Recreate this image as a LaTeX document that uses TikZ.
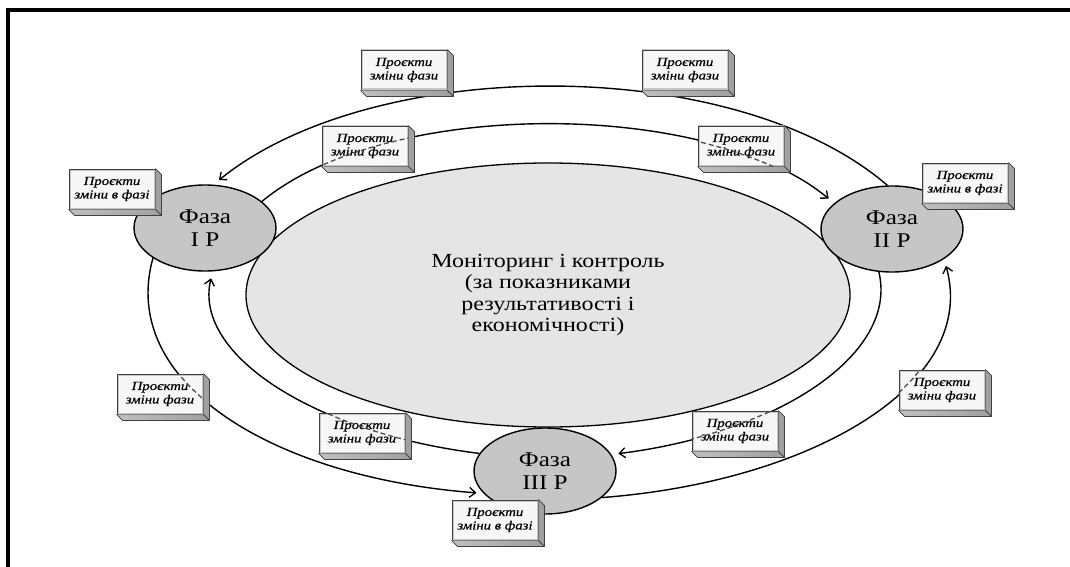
\documentclass[tikz,border=0pt]{standalone}
\usepackage{fontspec}
\setmainfont{Liberation Serif}
\newfontfamily\wideserif[FakeStretch=1.2]{Liberation Serif}
\newfontfamily\boxserif[FakeStretch=1.2,FakeBold=0.6]{Liberation Serif}
\usetikzlibrary{shapes.geometric,arrows.meta}

\tikzset{
  frameline/.style={line width=4pt},
  mainell/.style={ellipse, draw, line width=1.3pt, fill=gray!20, inner sep=0pt,
    minimum width=604pt, minimum height=264pt, align=center,
    font=\wideserif\fontsize{20}{21.5}\selectfont},
  phase/.style={ellipse, draw, line width=1.4pt, fill=gray!45, inner sep=0pt,
    minimum width=142pt, minimum height=86pt, align=center,
    font=\wideserif\fontsize{21}{23}\selectfont},
  pbox/.style={rectangle, draw=black!75, line width=0.9pt, fill=gray!6,
    minimum width=86pt, minimum height=40pt, inner sep=1pt, align=center,
    font=\boxserif\itshape\fontsize{12.3}{13.5}\selectfont,
    path picture={\draw[gray!45, line width=3pt]
      (path picture bounding box.south west) rectangle (path picture bounding box.north east);}},
  boxside/.style={left color=gray!50, right color=gray!75},
  boxedge/.style={draw=black!75, line width=0.8pt, line join=round},
  flow/.style={line width=1.4pt, -{Straight Barb[length=6pt,width=10pt,line width=1.3pt]}, shorten >=7pt},
  dashover/.style={line width=1.3pt, black!70, dash pattern=on 5pt off 3pt},
}

\newcommand\projbox[4]{%
  \node[pbox] (#1) at (#2,#3) {#4};
  \fill[boxside] (#1.north east) -- ++(6,-6) -- ([shift={(6,-6)}]#1.south east)
     -- ([shift={(6,-6)}]#1.south west) -- (#1.south west) -- (#1.south east) -- cycle;
  \draw[boxedge] (#1.north east) -- ++(6,-6) -- ([shift={(6,-6)}]#1.south east)
     -- ([shift={(6,-6)}]#1.south west) -- (#1.south west);
  \draw[boxedge] (#1.south east) -- ++(6,-6);
}

\newcommand\arcA{(p2.96) .. controls +(-153,132) and +(160,130) .. (p1.79)}
\newcommand\arcB{(p1.25) .. controls +(125,104) and +(-125,104) .. (p2.156)}
\newcommand\arcC{(p3.165) .. controls +(-163,20) and +(-20,-84) .. (p1.-80)}
\newcommand\arcD{(p1.210) .. controls +(-35,-125) and +(-210,16) .. (p3.200)}
\newcommand\arcE{(p2.253) .. controls +(20,-84) and +(163,20) .. (p3.14)}
\newcommand\arcF{(p3.-25) .. controls +(210,16) and +(35,-125) .. (p2.-30)}

\begin{document}
\begin{tikzpicture}[x=1pt, y=1pt]
\useasboundingbox (0,0) rectangle (1070,-567);
\fill[white] (0,0) rectangle (1070,-567);
\draw[frameline] (8,-567) -- (8,-10) -- (1070,-10);

\node[mainell] (mc) at (548,-295) {Моніторинг і контроль\\(за показниками\\результативості і\\економічності)};

\node[phase] (p1) at (205,-228) {Фаза\\I Р};
\node[phase] (p2) at (892,-229) {Фаза\\II Р};
\node[phase] (p3) at (545,-471) {Фаза\\III Р};

\draw[flow] \arcA;
\draw[flow] \arcB;
\draw[flow] \arcC;
\draw[flow] \arcD;
\draw[flow] \arcE;
\draw[flow] \arcF;

\projbox{b1}{404}{-70}{Проєкти\\зміни фази}
\projbox{b2}{685}{-70}{Проєкти\\зміни фази}
\projbox{b3}{365}{-146}{Проєкти\\зміни фази}
\projbox{b4}{741}{-146}{Проєкти\\зміни фази}
\projbox{b5}{160}{-394}{Проєкти\\зміни фази}
\projbox{b6}{362}{-433}{Проєкти\\зміни фази}
\projbox{b7}{735}{-431}{Проєкти\\зміни фази}
\projbox{b8}{942}{-390}{Проєкти\\зміни фази}

\projbox{q1}{112}{-189}{Проєкти\\зміни в фазі}
\projbox{q2}{965}{-183}{Проєкти\\зміни в фазі}
\projbox{q3}{495}{-520}{Проєкти\\зміни в фазі}

\begin{scope}
  \clip (b1.south west) rectangle (b1.north east)
        (b2.south west) rectangle (b2.north east)
        (b3.south west) rectangle (b3.north east)
        (b4.south west) rectangle (b4.north east)
        (b5.south west) rectangle (b5.north east)
        (b6.south west) rectangle (b6.north east)
        (b7.south west) rectangle (b7.north east)
        (b8.south west) rectangle (b8.north east);
  \draw[dashover] \arcA;
  \draw[dashover] \arcB;
  \draw[dashover] \arcC;
  \draw[dashover] \arcD;
  \draw[dashover] \arcE;
  \draw[dashover] \arcF;
\end{scope}
\end{tikzpicture}
\end{document}
